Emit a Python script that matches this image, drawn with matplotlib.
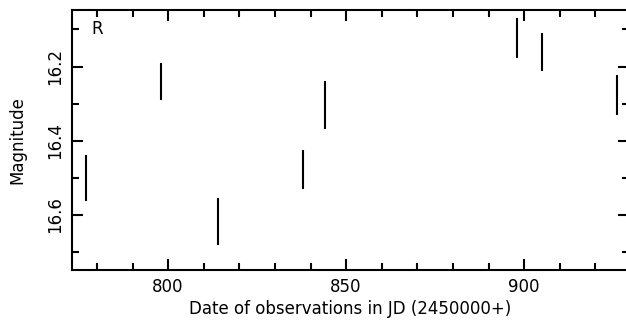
import matplotlib
matplotlib.use("Agg")
import matplotlib.pyplot as plt
from matplotlib.ticker import MultipleLocator

# R band light curve
jd = [777, 798, 814, 838, 844, 898, 905, 926]
mag = [16.50, 16.24, 16.617, 16.478, 16.304, 16.122, 16.161, 16.276]
err = [0.063, 0.05, 0.063, 0.053, 0.064, 0.054, 0.051, 0.054]

plt.rcParams['font.family'] = ['DejaVu Sans']

fig = plt.figure(figsize=(6.26, 3.24), dpi=100)
ax = fig.add_axes([0.115, 0.1667, 0.89, 0.802])

ax.errorbar(jd, mag, yerr=err, fmt='none', ecolor='black', elinewidth=1.5, capsize=0)

ax.set_xlim(773, 929.5)
ax.set_ylim(16.748, 16.048)

ax.xaxis.set_major_locator(MultipleLocator(50))
ax.xaxis.set_minor_locator(MultipleLocator(10))
ax.yaxis.set_major_locator(MultipleLocator(0.2))
ax.yaxis.set_minor_locator(MultipleLocator(0.1))
ax.tick_params(which='both', direction='in', top=True, right=True, width=1.5, labelsize=12)
ax.tick_params(which='major', length=8, pad=6)
ax.tick_params(which='minor', length=5)
for lab in ax.get_yticklabels():
    lab.set_rotation(90)
    lab.set_va('center')
for s in ax.spines.values():
    s.set_linewidth(1.5)

ax.set_xlabel("Date of observations in JD (2450000+)", fontsize=12, labelpad=3)
ax.set_ylabel("Magnitude", fontsize=12, labelpad=14)
ax.text(0.046, 0.927, "R", transform=ax.transAxes, fontsize=12, ha='center', va='center')

fig.savefig("out.png", dpi=100)
